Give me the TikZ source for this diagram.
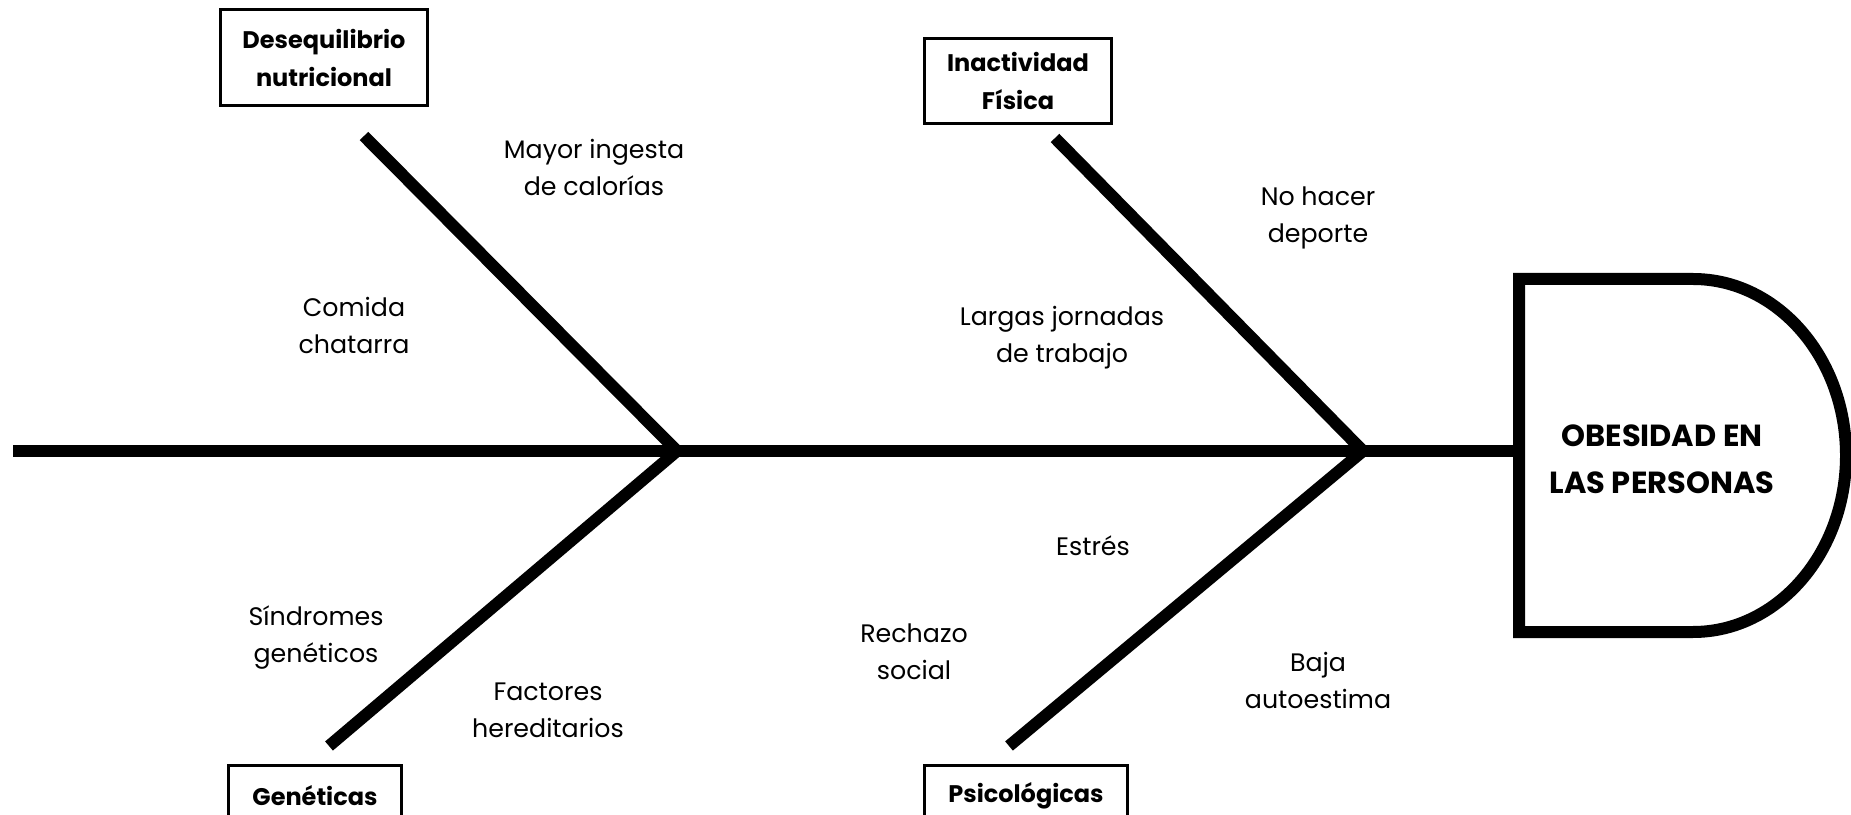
\documentclass[tikz,border=0pt]{standalone}
\usepackage{fontspec}
\setmainfont{Poppins}
\begin{document}
\begin{tikzpicture}[x=1pt,y=1pt,
  bone/.style={line width=12pt, line join=miter},
  lbl/.style={font=\fontsize{25.3}{37}\selectfont, align=center, inner sep=0pt},
  cat/.style={draw, line width=3pt, font=\fontsize{24}{38}\selectfont\bfseries, align=center, inner sep=0pt},
  eff/.style={font=\fontsize{30.5}{47}\selectfont\bfseries, align=center, inner sep=0pt}
]
\useasboundingbox (0,0) rectangle (1851,814);
\clip (0,0) rectangle (1851,814);
% coordinates
\coordinate (tail) at (13,363);
\coordinate (hw) at (1519,363);
\coordinate (J1) at (677,363);
\coordinate (J2) at (1363,363);
\coordinate (U1) at (364,678);
\coordinate (U2) at (1055,676);
\coordinate (L1) at (329,68);
\coordinate (L2) at (1009,68);
% head
\draw[line width=12pt, line join=miter] (1519,535) -- (1693,535)
  arc[start angle=90, end angle=-90, x radius=153, y radius=176.5]
  -- (1519,182) -- cycle;
\node[eff] (effect) at (1662,354.5) {OBESIDAD EN\\LAS PERSONAS};
% bones
\draw[bone] (U1) -- (J1) -- (L1);
\draw[bone] (U2) -- (J2) -- (L2);
\draw[bone] (tail) -- (hw);
% category boxes
\node[cat, minimum width=207pt, minimum height=96pt] (deseq) at (324,756.5) {Desequilibrio\\nutricional};
\node[cat, minimum width=187pt, minimum height=85pt] (inact) at (1018,733) {Inactividad\\Física};
\node[cat, minimum width=173pt, minimum height=62pt, anchor=north] (gen) at (315,50.5) {Genéticas};
\node[cat, minimum width=203pt, minimum height=62pt, anchor=north] (psi) at (1026,50.5) {Psicológicas};
% cause labels
\node[lbl] (c1) at (594,646.5) {Mayor ingesta\\de calorías};
\node[lbl] (c2) at (354,488.5) {Comida\\chatarra};
\node[lbl] (c3) at (1318,596.5) {No hacer\\deporte};
\node[lbl] (c4) at (1062,476) {Largas jornadas\\de trabajo};
\node[lbl] (c5) at (1093,268) {Estrés};
\node[lbl] (c6) at (316,176) {Síndromes\\genéticos};
\node[lbl] (c7) at (914,162.5) {Rechazo\\social};
\node[lbl] (c8) at (548,103.5) {Factores\\hereditarios};
\node[lbl] (c9) at (1318,134) {Baja\\autoestima};
\end{tikzpicture}
\end{document}
